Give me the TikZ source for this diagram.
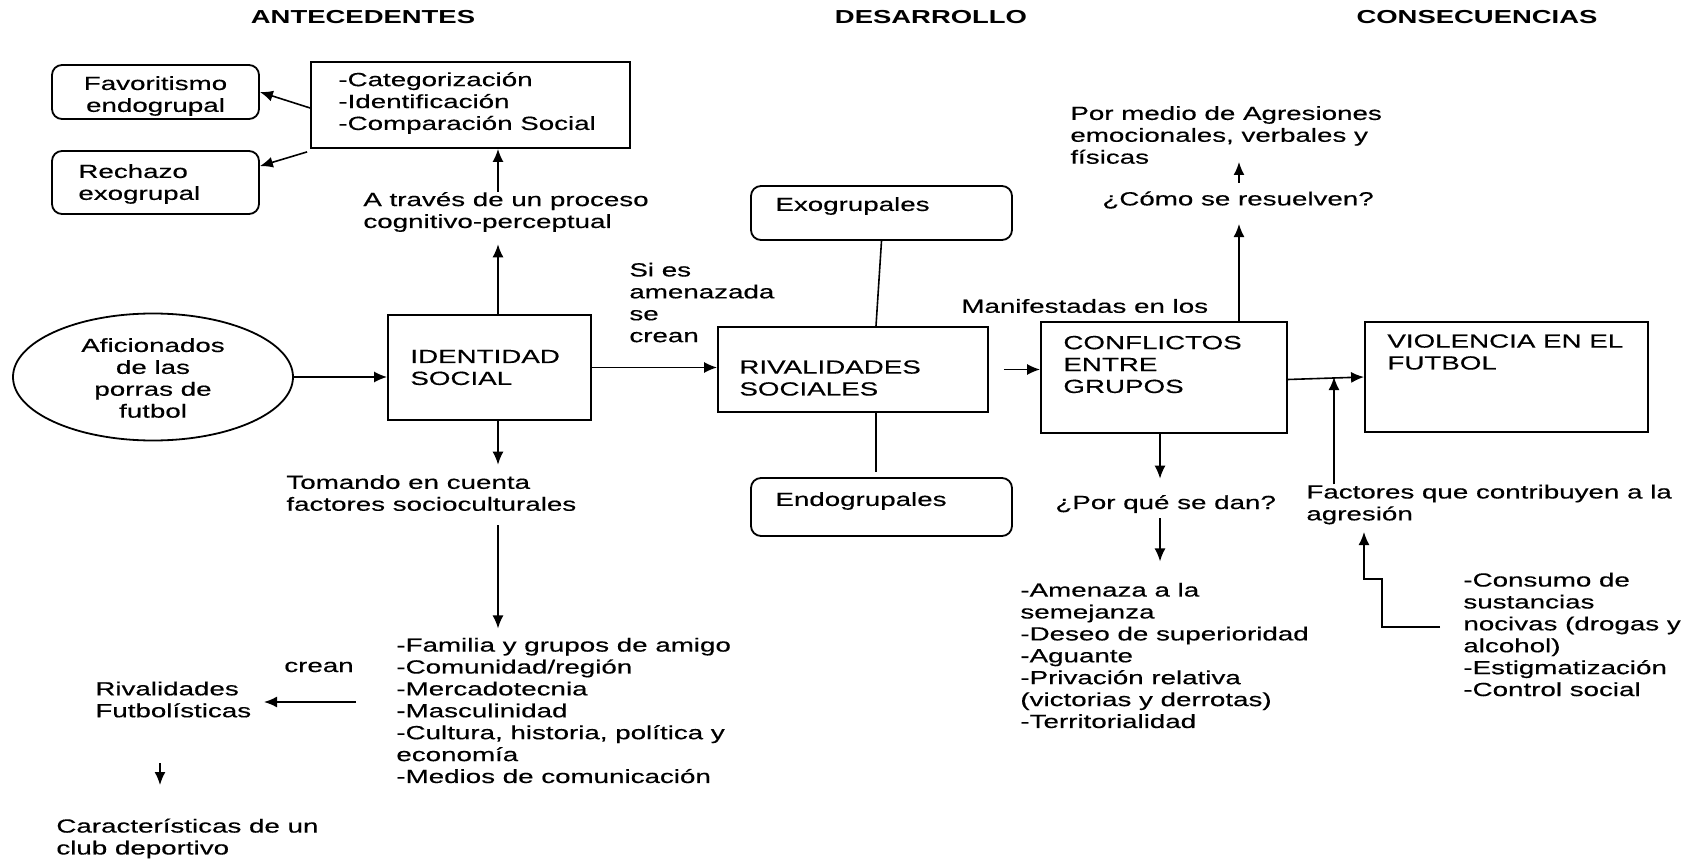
\documentclass[tikz,border=0pt]{standalone}
\usepackage{fontspec}
\setmainfont[FakeStretch=1.46, UprightFeatures={FakeBold=0.4}]{Liberation Sans}
\usetikzlibrary{arrows.meta,shapes.geometric}
\tikzset{
  txt/.style={anchor=west, align=left, inner sep=0pt},
  ctxt/.style={anchor=center, align=center, inner sep=0pt},
  box/.style={draw, line width=0.9pt, inner sep=0pt},
  rbox/.style={box, rounded corners=5pt},
  arr/.style={-{Latex[length=6.5pt,width=5.5pt]}, line width=0.8pt},
  ln/.style={line width=0.8pt},
  head/.style={font=\bfseries\fontsize{9.4pt}{11pt}\selectfont, anchor=center, inner sep=0pt}
}
\begin{document}
\begin{tikzpicture}[x=0.5pt, y=-0.5pt,
  every node/.append style={font=\fontsize{9.5pt}{10.95pt}\selectfont}]
\useasboundingbox (0,0) rectangle (1692,861);

% headers
\node[head] (h1) at (363,17) {ANTECEDENTES};
\node[head] (h2) at (931,17) {DESARROLLO};
\node[head] (h3) at (1477,17) {CONSECUENCIAS};

% boxes
\node[rbox, minimum width=103.5pt, minimum height=27pt] (fav) at (155.5,92) {};
\node[rbox, minimum width=103.5pt, minimum height=31.5pt] (rech) at (155.5,182.5) {};
\node[box, minimum width=159.5pt, minimum height=43pt] (cat) at (470.5,105) {};
\node[draw, ellipse, line width=0.9pt, inner sep=0pt, minimum width=140pt, minimum height=63.5pt] (afic) at (153,377) {};
\node[box, minimum width=101.5pt, minimum height=52.5pt] (ident) at (489.5,367.5) {};
\node[box, minimum width=135pt, minimum height=42.5pt] (riv) at (853,369.5) {};
\node[rbox, minimum width=130.5pt, minimum height=27pt] (exo) at (881.5,213) {};
\node[rbox, minimum width=130.5pt, minimum height=29pt] (endo) at (881.5,507) {};
\node[box, minimum width=123pt, minimum height=55.5pt] (conf) at (1164,377.5) {};
\node[box, minimum width=141.5pt, minimum height=55pt] (viol) at (1506.5,377) {};

% texts
\node[ctxt] (favT) at (155.5,96) {Favoritismo\\endogrupal};
\node[txt] (rechT) at (78,184) {Rechazo\\exogrupal};
\node[txt] (catT) at (338,103) {-Categorización\\-Identificación\\-Comparación Social};
\node[txt] (trav) at (363,212) {A través de un proceso\\cognitivo-perceptual};
\node[ctxt] (aficT) at (153,378) {Aficionados\\de las\\porras de\\futbol};
\node[txt] (identT) at (410,367.5) {IDENTIDAD\\SOCIAL};
\node[txt] (toma) at (286,493) {Tomando en cuenta\\factores socioculturales};
\node[txt] (fam) at (396,710.5) {-Familia y grupos de amigo\\-Comunidad/región\\-Mercadotecnia\\-Masculinidad\\-Cultura, historia, política y\\economía\\-Medios de comunicación};
\node[ctxt] (crean) at (319,667) {crean};
\node[txt] (rivfut) at (95,699.5) {Rivalidades\\Futbolísticas};
\node[txt] (caract) at (56,838.5) {Características de un\\club deportivo};
\node[txt] (sies) at (629,302.5) {Si es\\amenazada\\se\\crean};
\node[txt] (manif) at (961,306) {Manifestadas en los};
\node[txt] (exoT) at (775,206) {Exogrupales};
\node[txt] (endoT) at (775,501) {Endogrupales};
\node[txt] (rivT) at (739,378) {RIVALIDADES\\SOCIALES};
\node[txt] (confT) at (1063,364.5) {CONFLICTOS\\ENTRE\\GRUPOS};
\node[txt] (como) at (1102,200) {¿Cómo se resuelven?};
\node[txt] (pmedio) at (1070,135) {Por medio de Agresiones\\emocionales, verbales y\\físicas};
\node[txt] (porque) at (1055,504) {¿Por qué se dan?};
\node[txt] (amen) at (1020,655.5) {-Amenaza a la\\semejanza\\-Deseo de superioridad\\-Aguante\\-Privación relativa\\(victorias y derrotas)\\-Territorialidad};
\node[txt] (violT) at (1387,352) {VIOLENCIA EN EL\\FUTBOL};
\node[txt] (fact) at (1306,504.5) {Factores que contribuyen a la\\agresión};
\node[txt] (cons) at (1463,634.5) {-Consumo de\\sustancias\\nocivas (drogas y\\alcohol)\\-Estigmatización\\-Control social};

% axis coordinates
\coordinate (colA) at (498,0);
\coordinate (colR) at (876,0);
\coordinate (colC) at (1239,0);
\coordinate (colD) at (1160,0);
\coordinate (colF) at (1334,0);
\coordinate (creanS) at (356,702);
\coordinate (creanE) at (264,702);
\coordinate (rfA) at (160,763);
\coordinate (rfB) at (160,785);
\coordinate (cmA) at (1239,183);
\coordinate (cmB) at (1239,162);
\coordinate (e1) at (1440,627);
\coordinate (e2) at (1382,627);
\coordinate (e3) at (1382,579);
\coordinate (e4) at (1364,579);
\coordinate (e5) at (1364,532);

% connectors
\draw[arr] ([yshift=-1.5pt]cat.west) -- (fav.east);
\draw[arr] ([xshift=-1.5pt,yshift=-1.5pt]cat.south west) -- ([yshift=-8pt]rech.north east);
\draw[arr] (trav.north -| colA) -- (cat.south -| colA);
\draw[arr, shorten >=6pt] (ident.north -| colA) -- (trav.south -| colA);
\draw[arr] (afic.east) -- (afic.east -| ident.west);
\draw[arr, shorten >=5pt] (ident.south -| colA) -- (toma.north -| colA);
\draw[arr, shorten <=7pt, shorten >=4.5pt] (toma.south -| colA) -- (fam.north -| colA);
\draw[arr] (creanS) -- (creanE);
\draw[arr] (rfA) -- (rfB);
\draw[arr] (ident.east) -- (ident.east -| riv.west);
\draw[ln] (exo.south) -- (riv.north -| colR);
\draw[ln, shorten >=2.5pt] (riv.south -| colR) -- (endo.north -| colR);
\draw[arr, shorten <=7.5pt] (riv.east) -- (riv.east -| conf.west);
\draw[arr, shorten >=7.5pt] (conf.north -| colC) -- (como.south -| colC);
\draw[arr] (cmA) -- (cmB);
\draw[arr, shorten >=8pt] (conf.south -| colD) -- (porque.north -| colD);
\draw[arr, shorten <=2.5pt, shorten >=10.5pt] (porque.south -| colD) -- (amen.north -| colD);
\draw[arr] ([yshift=-1pt]conf.east) -- (viol.west);
\draw[arr] (fact.north -| colF) -- (colF |- viol.west);
\draw[arr] (e1) -- (e2) -- (e3) -- (e4) -- (e5);
\end{tikzpicture}
\end{document}
